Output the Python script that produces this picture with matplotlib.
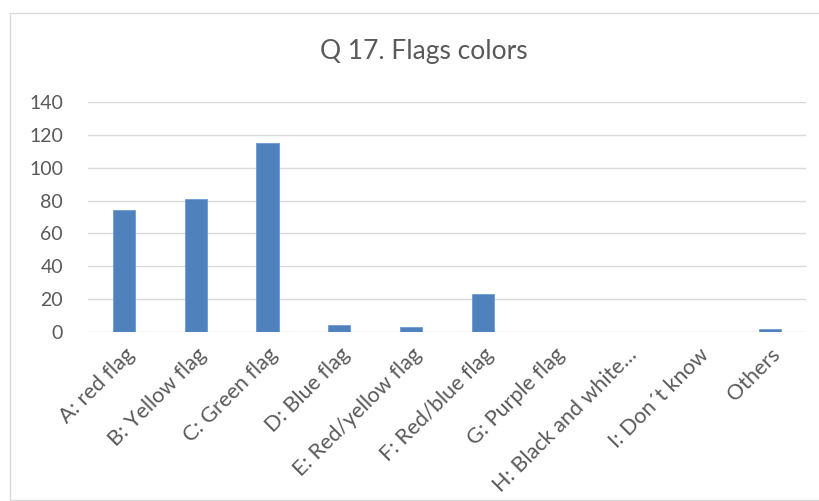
import matplotlib
matplotlib.use('Agg')
import matplotlib.pyplot as plt
from matplotlib.patches import Rectangle

# Q17 answer counts
categories = ['A: red flag', 'B: Yellow flag', 'C: Green flag', 'D: Blue flag',
              'E: Red/yellow flag', 'F: Red/blue flag', 'G: Purple flag',
              'H: Black and white…', 'I: Don´t know', 'Others']
counts = [74, 81, 115, 4, 3, 23, 0, 0, 0, 2]
y_ticks = [0, 20, 40, 60, 80, 100, 120, 140]

plt.rcParams['font.family'] = ['Lato', 'DejaVu Sans']
text_col = '#595959'

fig = plt.figure(figsize=(8.2, 5.01), dpi=100)
ax = fig.add_axes([88 / 820, 1 - 332 / 501, 718 / 820, 230 / 501])

# chart frame (runs off the right edge)
fig.patches.append(Rectangle((10 / 820, 0.002), 1.2, 1 - 13 / 501 - 0.002,
                             transform=fig.transFigure, fill=False,
                             edgecolor='#d9d9d9', linewidth=1.0))

x = range(len(categories))
ax.bar(x, counts, width=0.31, color='#4f81bd', edgecolor='#6f9bd1',
       linewidth=0.6, zorder=3)

ax.set_xlim(-0.5, len(categories) - 0.5)
ax.set_ylim(0, 140)
ax.set_yticks(y_ticks)
ax.yaxis.grid(True, color='#d9d9d9', linewidth=1.0, zorder=0)
for s in ax.spines.values():
    s.set_visible(False)
ax.tick_params(axis='both', length=0, colors=text_col)
ax.tick_params(axis='y', pad=18, labelsize=14)
ax.tick_params(axis='x', pad=9, labelsize=15.5)
ax.set_xticks(list(x))
ax.set_xticklabels(categories, rotation=45, ha='right', rotation_mode='anchor')

fig.text(424 / 820, 1 - 52 / 501, 'Q 17. Flags colors', ha='center', va='center',
         fontsize=19, color=text_col)

fig.savefig('out.png', dpi=100)
